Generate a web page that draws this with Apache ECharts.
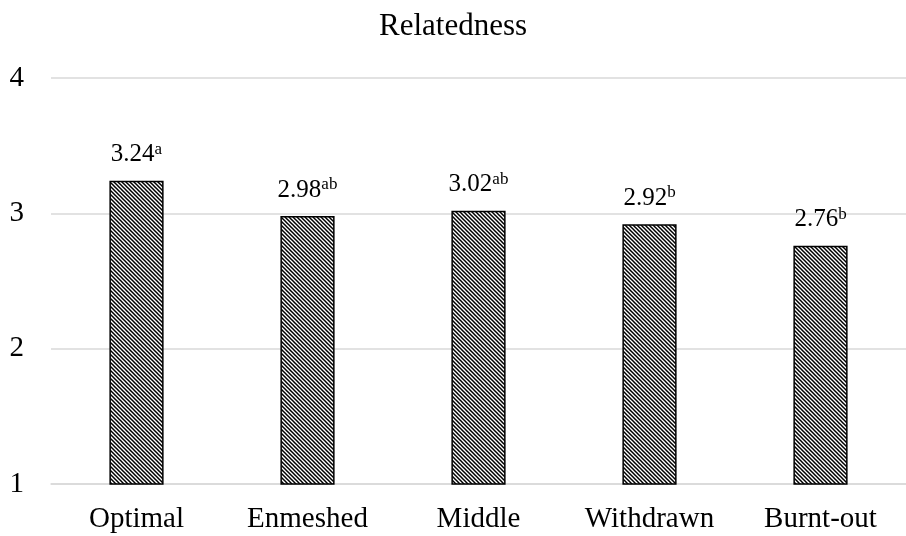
<!DOCTYPE html>
<html><head><meta charset="utf-8">
<script src="https://cdn.jsdelivr.net/npm/echarts@6/dist/echarts.min.js"></script>
<style>html,body{margin:0;padding:0;background:#fff}#c{width:906px;height:536px}</style>
</head><body><div id="c"></div>
<script>
const titleText = 'Relatedness';
const categories = ['Optimal', 'Enmeshed', 'Middle', 'Withdrawn', 'Burnt-out'];
const values = [3.24, 2.98, 3.02, 2.92, 2.76];
const superscripts = ['a', 'ab', 'ab', 'b', 'b'];
const yTicks = [1, 2, 3, 4];

function hatch() {
  const c = document.createElement('canvas');
  const s = 4;
  c.width = s; c.height = s;
  const g = c.getContext('2d');
  g.fillStyle = '#fff'; g.fillRect(0, 0, s, s);
  g.strokeStyle = '#000'; g.lineWidth = 1.5;
  g.beginPath();
  for (let k = -1; k <= 1; k++) {
    g.moveTo(k * s - 1, -1); g.lineTo(k * s + s + 1, s + 1);
  }
  g.stroke();
  return c;
}

const font = '"Liberation Serif", "Times New Roman", serif';
const chart = echarts.init(document.getElementById('c'));
chart.setOption({
  animation: false,
  backgroundColor: '#fff',
  title: { text: titleText, left: 'center', top: 6, textStyle: { fontFamily: font, fontSize: 31, fontWeight: 'normal', color: '#000' } },
  grid: { left: 51, width: 867, top: 78, bottom: 52 },
  xAxis: {
    type: 'category', data: categories,
    axisLine: { lineStyle: { color: '#d9d9d9', width: 1.5 } },
    axisTick: { show: false },
    axisLabel: { fontFamily: font, fontSize: 29, color: '#000', margin: 21, interval: 0 }
  },
  yAxis: {
    type: 'value', min: yTicks[0], max: yTicks[yTicks.length - 1], interval: 1,
    axisLine: { show: false }, axisTick: { show: false },
    splitLine: { lineStyle: { color: '#d9d9d9', width: 1.5 } },
    axisLabel: { fontFamily: font, fontSize: 29, color: '#000', margin: 27 }
  },
  series: [{
    type: 'bar', barWidth: '31.7%',
    data: values.map((v, i) => ({ value: v, sup: superscripts[i] })),
    itemStyle: { color: { image: hatch(), repeat: 'repeat' }, borderColor: '#000', borderWidth: 1.5 },
    label: {
      show: true, position: 'top', distance: 12,
      formatter: p => '{v|' + p.value.toFixed(2) + '}{s|' + superscripts[p.dataIndex] + '}',
      rich: {
        v: { fontFamily: font, fontSize: 25, color: '#000', lineHeight: 28 },
        s: { fontFamily: font, fontSize: 17, color: '#000', lineHeight: 28, verticalAlign: 'top', padding: [0, 0, 2, 0] }
      }
    }
  }]
});
</script></body></html>
